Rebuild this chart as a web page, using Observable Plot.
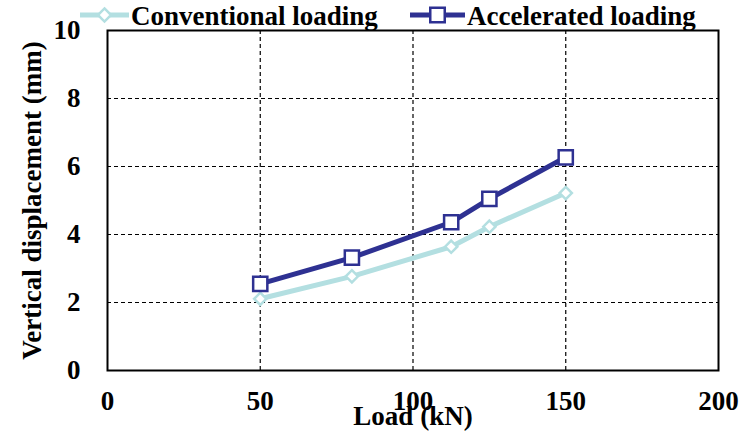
<!DOCTYPE html>
<html>
<head>
<meta charset="utf-8">
<script src="https://cdn.jsdelivr.net/npm/d3@7"></script>
<script src="https://cdn.jsdelivr.net/npm/@observablehq/plot@0.6"></script>
<style>
  html, body { margin: 0; padding: 0; background: #fff; }
  #wrap { position: relative; width: 750px; height: 432px; font-family: "Liberation Serif", "Times New Roman", serif; }
  #legend { position: absolute; left: 0; top: 0; width: 750px; height: 30px; pointer-events: none; overflow: visible; }
</style>
</head>
<body>
<div id="wrap">
  <div id="chart"></div>
  <svg id="legend" width="750" height="30"></svg>
</div>
<script>
const loads = [50, 80, 112.5, 125, 150];
const conventional = [2.11, 2.77, 3.64, 4.23, 5.22];
const accelerated = [2.55, 3.32, 4.36, 5.05, 6.27];
const seriesNames = ["Conventional loading", "Accelerated loading"];
const xTicks = [0, 50, 100, 150, 200];
const yTicks = [0, 2, 4, 6, 8, 10];
const xLabel = "Load (kN)";
const yLabel = "Vertical displacement (mm)";

const colors = {"Conventional loading": "#b3dfe1", "Accelerated loading": "#2e3192"};
const FONT = "Liberation Serif, Times New Roman, serif";
const FS = 27;

const conv = loads.map((x, i) => ({x, y: conventional[i]}));
const acc = loads.map((x, i) => ({x, y: accelerated[i]}));

const plot = Plot.plot({
  width: 750,
  height: 432,
  marginLeft: 107,
  marginRight: 32,
  marginTop: 30,
  marginBottom: 62,
  style: {fontFamily: FONT, fontSize: FS + "px", fontWeight: "bold", background: "white", color: "black", overflow: "visible"},
  x: {domain: [0, 200]},
  y: {domain: [0, 10]},
  marks: [
    Plot.gridX([50, 100, 150], {stroke: "black", strokeOpacity: 1, strokeWidth: 1.2, strokeDasharray: "4,3"}),
    Plot.gridY([2, 4, 6, 8], {stroke: "black", strokeOpacity: 1, strokeWidth: 1.2, strokeDasharray: "4,3"}),
    Plot.frame({stroke: "black", strokeWidth: 2}),
    Plot.axisX({ticks: xTicks, tickSize: 0, tickPadding: 20, label: null, fontSize: FS, fontWeight: "bold", tickFormat: d => String(d)}),
    Plot.axisY({ticks: yTicks, tickSize: 0, tickPadding: 27, label: null, fontSize: FS, fontWeight: "bold", tickFormat: d => String(d)}),
    Plot.line(conv, {x: "x", y: "y", stroke: colors[seriesNames[0]], strokeWidth: 5}),
    Plot.dot(conv, {x: "x", y: "y", symbol: "diamond2", r: 5.5, fill: "white", stroke: colors[seriesNames[0]], strokeWidth: 2.5}),
    Plot.line(acc, {x: "x", y: "y", stroke: colors[seriesNames[1]], strokeWidth: 5}),
    Plot.dot(acc, {x: "x", y: "y", symbol: "square", r: 8, fill: "white", stroke: colors[seriesNames[1]], strokeWidth: 2.5}),
    Plot.text([xLabel], {frameAnchor: "bottom", dy: 46, text: d => d, fontSize: FS, fontWeight: "bold", lineAnchor: "middle", textAnchor: "middle"}),
    Plot.text([yLabel], {frameAnchor: "left", dx: -75, text: d => d, fontSize: FS, fontWeight: "bold", rotate: -90, lineAnchor: "middle", textAnchor: "middle"})
  ]
});
document.getElementById("chart").appendChild(plot);

// Legend (overlay above the plot area)
const lg = d3.select("#legend");
const legendItems = [
  {name: seriesNames[0], x0: 80, x1: 129, symbol: d3.symbolDiamond2, size: 110},
  {name: seriesNames[1], x0: 410, x1: 465, symbol: d3.symbolSquare, size: 210}
];
legendItems.forEach(it => {
  const c = colors[it.name];
  lg.append("line").attr("x1", it.x0).attr("x2", it.x1).attr("y1", 15).attr("y2", 15)
    .attr("stroke", c).attr("stroke-width", 5);
  lg.append("path").attr("d", d3.symbol(it.symbol, it.size)())
    .attr("transform", `translate(${(it.x0 + it.x1) / 2},15)`)
    .attr("fill", "white").attr("stroke", c).attr("stroke-width", 2.5);
  lg.append("text").attr("x", it.x1 + 2).attr("y", 25)
    .attr("font-family", FONT)
    .attr("font-size", FS).attr("font-weight", "bold").text(it.name);
});
</script>
</body>
</html>
